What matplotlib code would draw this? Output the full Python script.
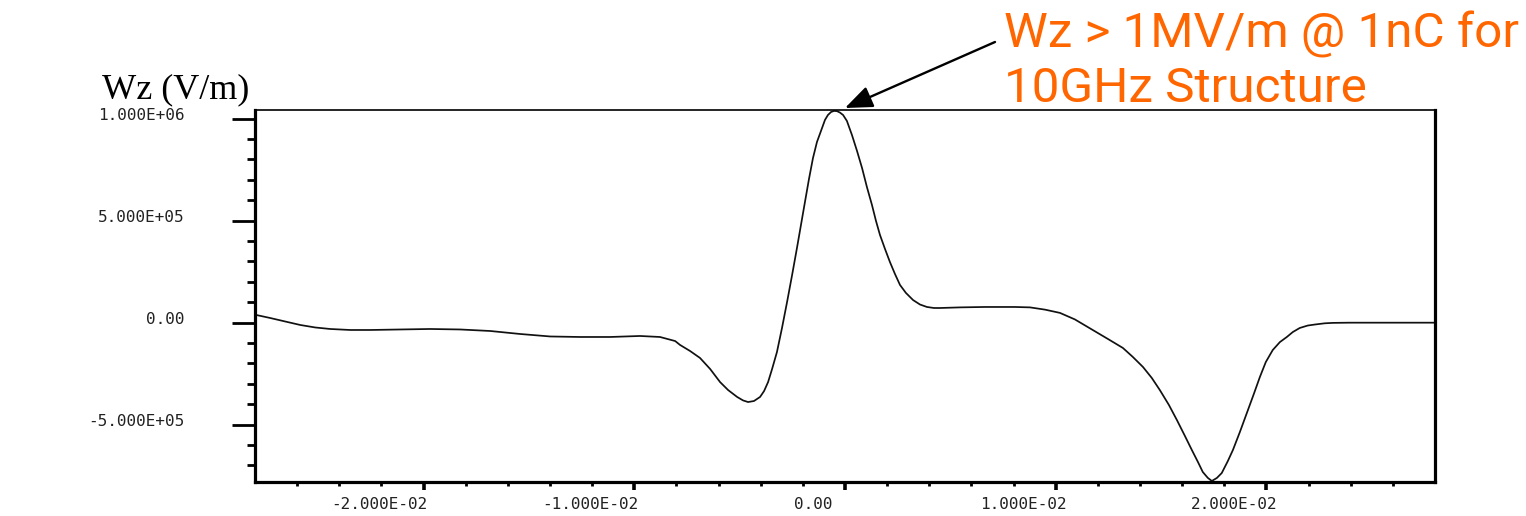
import matplotlib
matplotlib.use("Agg")
import matplotlib.pyplot as plt
from matplotlib.transforms import ScaledTranslation
from matplotlib.ticker import FixedLocator

# ---- data (z in m, Wz in V/m) ----
z_pos = [-0.02794, -0.02728, -0.02657, -0.02585, -0.02514, -0.02443, -0.02348, -0.02253,
         -0.02111, -0.01969, -0.01826, -0.01684, -0.01542, -0.01399, -0.01257, -0.01115,
         -0.00973, -0.00878, -0.00806, -0.00783, -0.00735, -0.00688, -0.00640, -0.00593,
         -0.00555, -0.00512, -0.00484, -0.00460, -0.00432, -0.00403, -0.00384, -0.00365,
         -0.00346, -0.00323, -0.00299, -0.00275, -0.00251, -0.00228, -0.00209, -0.00190,
         -0.00171, -0.00152, -0.00133, -0.00109, -0.00095, -0.00081, -0.00066, -0.00052,
         -0.00038, -0.00024, -0.00009, 0.00009, 0.00033, 0.00057, 0.00081, 0.00104,
         0.00128, 0.00147, 0.00166, 0.00190, 0.00213, 0.00237, 0.00261, 0.00289,
         0.00323, 0.00356, 0.00389, 0.00422, 0.00451, 0.00546, 0.00664, 0.00735,
         0.00806, 0.00878, 0.00949, 0.01020, 0.01091, 0.01176, 0.01248, 0.01319,
         0.01366, 0.01414, 0.01456, 0.01494, 0.01537, 0.01575, 0.01613, 0.01646,
         0.01675, 0.01698, 0.01722, 0.01741, 0.01765, 0.01788, 0.01817, 0.01841,
         0.01874, 0.01907, 0.01940, 0.01969, 0.01997, 0.02030, 0.02064, 0.02097,
         0.02125, 0.02158, 0.02196, 0.02230, 0.02277, 0.02315, 0.02396, 0.02633,
         0.02799]
wz = [37.7e3, 23.0e3, 5.9e3, -11.3e3, -23.5e3, -30.9e3, -35.8e3, -35.8e3,
      -33.3e3, -30.9e3, -33.3e3, -40.7e3, -55.4e3, -67.6e3, -70.1e3, -70.1e3,
      -65.2e3, -70.1e3, -90e3, -109e3, -139e3, -173e3, -227e3, -291e3,
      -330e3, -364e3, -381e3, -389e3, -384e3, -364e3, -335e3, -291e3,
      -227e3, -144e3, -26e3, 101e3, 234e3, 366e3, 479e3, 592e3,
      704e3, 807e3, 886e3, 954e3, 994e3, 1018e3, 1033e3, 1038e3,
      1037e3, 1030e3, 1018e3, 989e3, 920e3, 842e3, 758e3, 665e3,
      577e3, 499e3, 430e3, 361e3, 298e3, 239e3, 185e3, 146e3,
      111e3, 89e3, 77e3, 72e3, 72e3, 75e3, 77e3, 77e3,
      77e3, 75e3, 64e3, 48e3, 16e3, -36e3, -80e3, -124e3,
      -168e3, -217e3, -271e3, -330e3, -403e3, -477e3, -555e3, -624e3,
      -683e3, -732e3, -761e3, -776e3, -761e3, -737e3, -678e3, -624e3,
      -536e3, -443e3, -350e3, -266e3, -193e3, -134e3, -95e3, -70e3,
      -46e3, -26e3, -14e3, -9e3, -3e3, -1e3, 0.0, 0.0,
      0.0]

x_major = [-0.02, -0.01, 0.0, 0.01, 0.02]
x_major_labels = ["-2.000E-02", "-1.000E-02", "0.00", "1.000E-02", "2.000E-02"]
x_minor = [-0.026, -0.024, -0.022, -0.018, -0.016, -0.014, -0.012, -0.008, -0.006,
           -0.004, -0.002, 0.002, 0.004, 0.006, 0.008, 0.012, 0.014, 0.016, 0.018,
           0.022, 0.024, 0.026]
y_major = [-5e5, 0.0, 5e5, 1e6]
y_major_labels = ["-5.000E+05", "0.00", "5.000E+05", "1.000E+06"]
y_minor = [-7e5, -6e5, -4e5, -3e5, -2e5, -1e5, 1e5, 2e5, 3e5, 4e5, 6e5, 7e5, 8e5, 9e5]

y_label = "Wz (V/m)"
note = "Wz > 1MV/m @ 1nC for\n10GHz Structure"

# ---- figure ----
W, H, DPI = 1526, 516, 100
fig = plt.figure(figsize=(W / DPI, H / DPI), dpi=DPI)
ax = fig.add_axes([255 / W, 1 - 482 / H, (1435 - 255) / W, (482 - 110) / H])

ax.plot(z_pos, wz, color="#111111", lw=1.25, solid_joinstyle="round")
ax.set_xlim(-0.0280, 0.0280)
ax.set_ylim(-7.81e5, 1.0426e6)

for side in ["left", "bottom", "right"]:
    ax.spines[side].set_linewidth(2.3)
ax.spines["top"].set_linewidth(1.2)

ax.xaxis.set_major_locator(FixedLocator(x_major))
ax.xaxis.set_minor_locator(FixedLocator(x_minor))
ax.set_xticklabels(x_major_labels)
ax.yaxis.set_major_locator(FixedLocator(y_major))
ax.yaxis.set_minor_locator(FixedLocator(y_minor))
ax.set_yticklabels(y_major_labels)

ax.tick_params(axis="x", which="major", direction="out", length=6, width=2.6, pad=4.8,
               labelsize=11.5, labelcolor="#222222")
ax.tick_params(axis="x", which="minor", direction="out", length=3.2, width=2.0)
ax.tick_params(axis="y", which="major", direction="out", length=16.5, width=2.0, pad=34,
               labelsize=11.5, labelcolor="#222222")
ax.tick_params(axis="y", which="minor", direction="out", length=6, width=2.0)
for lab in ax.get_xticklabels() + ax.get_yticklabels():
    lab.set_fontfamily("DejaVu Sans Mono")

# reference labels sit left of their ticks (x) and slightly above them (y)
for lab, txt in zip(ax.get_xticklabels(), x_major_labels):
    dx = -44 if txt.startswith("-") else -32
    lab.set_transform(lab.get_transform() + ScaledTranslation(dx / DPI, 0, fig.dpi_scale_trans))
for lab in ax.get_yticklabels():
    lab.set_transform(lab.get_transform() + ScaledTranslation(0, 5 / DPI, fig.dpi_scale_trans))

# y axis title
fig.text(102 / W, 1 - 98 / H, y_label, family="Liberation Serif", fontsize=26,
         ha="left", va="baseline", color="black")

# annotation
fig.text(1004 / W, 1 - 11 / H, note, family="Roboto", fontsize=35.6,
         color="#FF6600", ha="left", va="top", linespacing=1.22)
ax.annotate("", xy=(845, H - 108), xycoords="figure pixels",
            xytext=(995, H - 42), textcoords="figure pixels",
            arrowprops=dict(arrowstyle="-|>,head_length=0.7,head_width=0.28",
                            mutation_scale=24, lw=1.7, color="black",
                            shrinkA=0, shrinkB=0),
            annotation_clip=False)

fig.savefig("out.png", dpi=DPI)
